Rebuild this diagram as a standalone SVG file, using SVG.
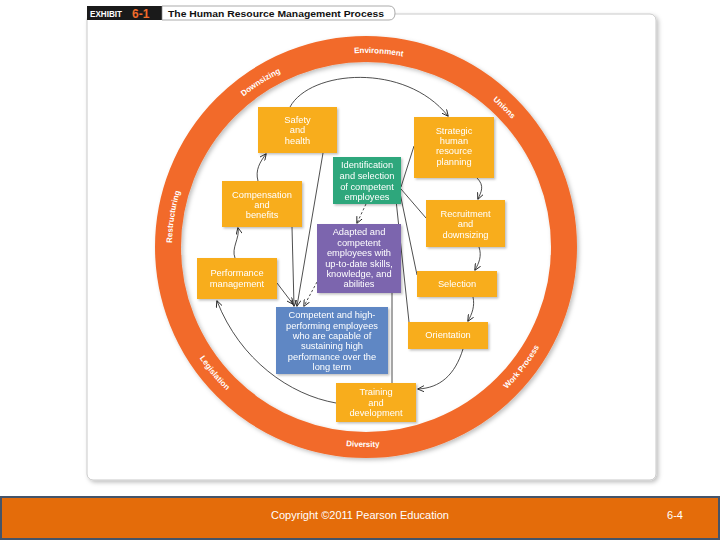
<svg xmlns="http://www.w3.org/2000/svg" width="720" height="540" viewBox="0 0 720 540">
<style>
.box{stroke:none}
.y{fill:#F8AD1C}
.bt{font-family:"Liberation Sans",Arial,sans-serif;font-size:9.3px;fill:#fff;text-anchor:middle}
.rt{font-family:"Liberation Sans",Arial,sans-serif;font-size:8px;font-weight:bold;fill:#fff;text-anchor:middle}
.c{fill:none;stroke:#222;stroke-width:0.8}
.d{fill:none;stroke:#222;stroke-width:0.8;stroke-dasharray:2.5,2}
</style>
<defs>
<filter id="sh" x="-20%" y="-20%" width="140%" height="140%">
<feDropShadow dx="1.5" dy="1.5" stdDeviation="1.2" flood-color="#000" flood-opacity="0.25"/>
</filter>
<filter id="rs" x="-10%" y="-10%" width="120%" height="120%">
<feDropShadow dx="2" dy="2" stdDeviation="2" flood-color="#000" flood-opacity="0.25"/>
</filter>
<marker id="ah" viewBox="0 0 8 8" refX="7" refY="4" markerWidth="7" markerHeight="7" orient="auto" markerUnits="userSpaceOnUse">
<path d="M0,0.5 L7.5,4 L0,7.5" fill="none" stroke="#222" stroke-width="1"/>
</marker>
<path id="topArc" d="M366,441 A194,194 0 1 1 366,53 A194,194 0 1 1 366,441"/>
<path id="botArc" d="M366,47 A200,200 0 1 0 366,447 A200,200 0 1 0 366,47"/>
</defs>

<rect width="720" height="540" fill="#fff"/>

<!-- frame -->
<g id="frame">
<rect x="87" y="14" width="569" height="466" rx="6" fill="#fff" stroke="#c9c9c9" stroke-width="1" filter="url(#rs)"/>
<rect x="87" y="6" width="75" height="14" fill="#1a1a1a"/>
<text x="90" y="17" font-family="Liberation Sans Narrow,'Liberation Sans',Arial,sans-serif" font-size="8.5" font-weight="bold" fill="#fff" textLength="32" lengthAdjust="spacingAndGlyphs">EXHIBIT</text>
<text x="132" y="18" font-family="'Liberation Sans',Arial,sans-serif" font-size="12" font-weight="bold" fill="#F26B2A">6-1</text>
<path d="M162,6 L389,6 Q395,6 395,13 Q395,20 389,20 L162,20 Z" fill="#fff" stroke="#888" stroke-width="0.7"/>
<text x="168" y="16.5" font-family="'Liberation Sans',Arial,sans-serif" font-size="9.8" font-weight="bold" fill="#111" textLength="216" lengthAdjust="spacingAndGlyphs">The Human Resource Management Process</text>
</g>

<!-- ring -->
<g id="ring">
<circle cx="366" cy="247" r="198" fill="none" stroke="#F26B2A" stroke-width="26" filter="url(#rs)"/>
<text class="rt"><textPath href="#topArc" startOffset="335">Restructuring</textPath></text>
<text class="rt"><textPath href="#topArc" startOffset="499">Downsizing</textPath></text>
<text class="rt"><textPath href="#topArc" startOffset="622">Environment</textPath></text>
<text class="rt"><textPath href="#topArc" startOffset="761">Unions</textPath></text>
<text class="rt"><textPath href="#botArc" startOffset="453">Legislation</textPath></text>
<text class="rt"><textPath href="#botArc" startOffset="625">Diversity</textPath></text>
<text class="rt"><textPath href="#botArc" startOffset="811">Work Process</textPath></text>
</g>

<!-- connectors -->
<g id="connectors">
<path class="c" d="M290,107 C310,70 405,62 448,116" marker-end="url(#ah)"/>
<path class="c" d="M477,178 C485,186 481,192 478,199" marker-end="url(#ah)"/>
<path class="c" d="M479,247 C482,256 479,263 475,270" marker-end="url(#ah)"/>
<path class="c" d="M473,297 C475,306 472,314 468,321" marker-end="url(#ah)"/>
<path class="c" d="M463,349 C455,375 440,388 418,389" marker-end="url(#ah)"/>
<path class="c" d="M336,403 C290,395 240,360 217,301" marker-end="url(#ah)"/>
<path class="c" d="M235,258 C231,248 240,238 238,228" marker-end="url(#ah)"/>
<path class="c" d="M258,181 C255,170 260,162 266,154" marker-end="url(#ah)"/>
<path class="c" d="M323,153 L297,306" marker-end="url(#ah)"/>
<path class="c" d="M292,227 L294,306" marker-end="url(#ah)"/>
<path class="c" d="M277,283 L293,304" marker-end="url(#ah)"/>
<path class="d" d="M317,282 L304,306" marker-end="url(#ah)"/>
<path class="d" d="M366,204 L357,223" marker-end="url(#ah)"/>
<path class="c" d="M401,187 L414,146"/>
<path class="c" d="M401,189 L426,218"/>
<path class="c" d="M400,193 L417,275"/>
<path class="c" d="M396,200 L409,322"/>
<path class="c" d="M392,293 L392,383"/>
</g>

<!-- nodes -->
<g id="safety" filter="url(#sh)"><rect class="box y" x="258" y="107" width="79" height="46"/>
<text class="bt" x="297.5" y="123">Safety</text><text class="bt" x="297.5" y="133">and</text><text class="bt" x="297.5" y="144">health</text></g>

<g id="strategic" filter="url(#sh)"><rect class="box y" x="414" y="117" width="80" height="61"/>
<text class="bt" x="454" y="134">Strategic</text><text class="bt" x="454" y="144">human</text><text class="bt" x="454" y="154">resource</text><text class="bt" x="454" y="165">planning</text></g>

<g id="identification" filter="url(#sh)"><rect class="box" fill="#2EA77B" x="333" y="157" width="68" height="47"/>
<text class="bt" x="367" y="168">Identification</text><text class="bt" x="367" y="179">and selection</text><text class="bt" x="367" y="190">of competent</text><text class="bt" x="367" y="200">employees</text></g>

<g id="compensation" filter="url(#sh)"><rect class="box y" x="222" y="181" width="80" height="46"/>
<text class="bt" x="262" y="198">Compensation</text><text class="bt" x="262" y="208">and</text><text class="bt" x="262" y="218">benefits</text></g>

<g id="recruitment" filter="url(#sh)"><rect class="box y" x="426" y="200" width="79" height="47"/>
<text class="bt" x="465.5" y="217">Recruitment</text><text class="bt" x="465.5" y="227">and</text><text class="bt" x="465.5" y="238">downsizing</text></g>

<g id="adapted" filter="url(#sh)"><rect class="box" fill="#7C65AE" x="317" y="224" width="84" height="69"/>
<text class="bt" x="359" y="235">Adapted and</text><text class="bt" x="359" y="246">competent</text><text class="bt" x="359" y="256">employees with</text><text class="bt" x="359" y="267">up-to-date skills,</text><text class="bt" x="359" y="277">knowledge, and</text><text class="bt" x="359" y="287">abilities</text></g>

<g id="performance" filter="url(#sh)"><rect class="box y" x="197" y="258" width="80" height="41"/>
<text class="bt" x="237" y="276">Performance</text><text class="bt" x="237" y="287">management</text></g>

<g id="selection" filter="url(#sh)"><rect class="box y" x="417" y="271" width="80" height="26"/>
<text class="bt" x="457" y="287">Selection</text></g>

<g id="competent" filter="url(#sh)"><rect class="box" fill="#5E87C4" x="276" y="307" width="112" height="67"/>
<text class="bt" x="332" y="318">Competent and high-</text><text class="bt" x="332" y="329">performing employees</text><text class="bt" x="332" y="339">who are capable of</text><text class="bt" x="332" y="349">sustaining high</text><text class="bt" x="332" y="360">performance over the</text><text class="bt" x="332" y="370">long term</text></g>

<g id="orientation" filter="url(#sh)"><rect class="box y" x="408" y="322" width="80" height="27"/>
<text class="bt" x="448" y="338">Orientation</text></g>

<g id="training" filter="url(#sh)"><rect class="box y" x="336" y="383" width="80" height="39"/>
<text class="bt" x="376" y="395">Training</text><text class="bt" x="376" y="406">and</text><text class="bt" x="376" y="416">development</text></g>

<!-- footer -->
<g id="footer">
<rect x="1" y="497" width="718" height="42" fill="#E46C0A" stroke="#44546A" stroke-width="2"/>
<text x="360" y="519" font-family="'Liberation Sans',Arial,sans-serif" font-size="11" fill="#fff" text-anchor="middle">Copyright ©2011 Pearson Education</text>
<text x="675" y="519" font-family="'Liberation Sans',Arial,sans-serif" font-size="11" fill="#fff" text-anchor="middle">6-4</text>
</g>
</svg>
